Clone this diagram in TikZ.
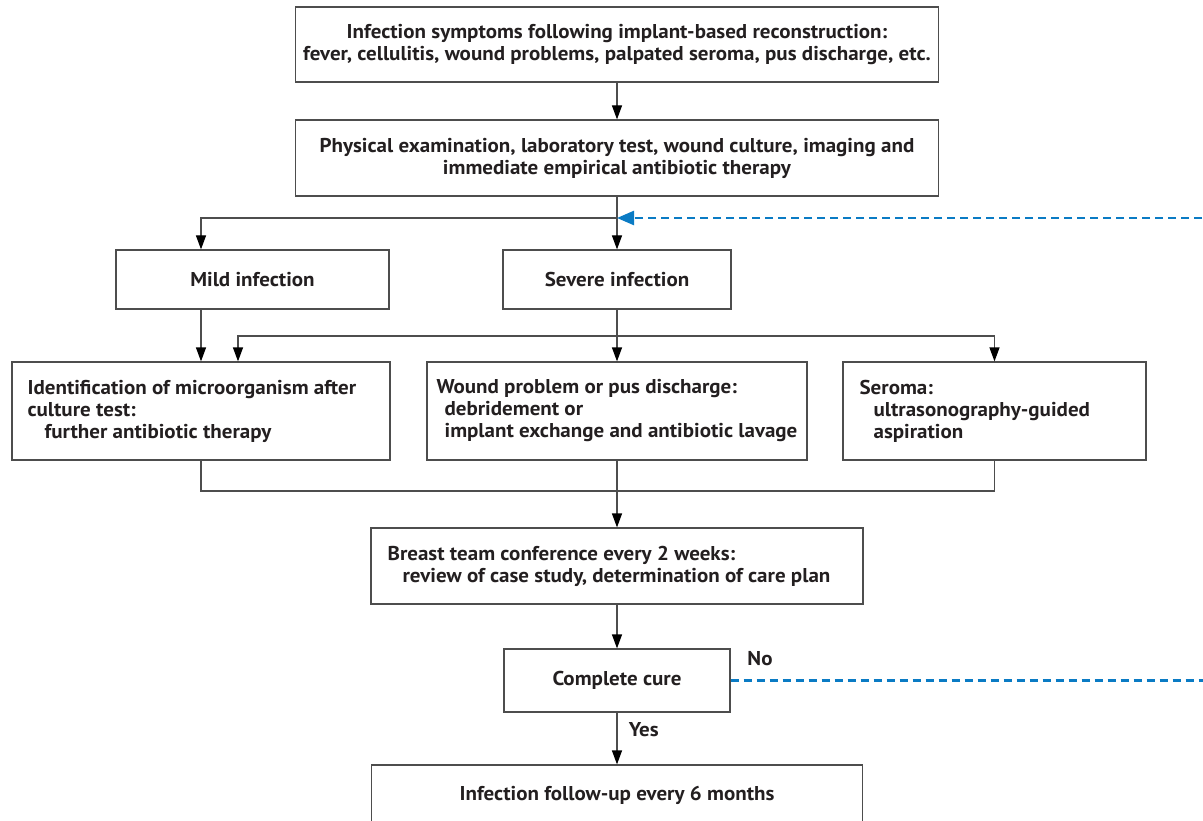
\documentclass[tikz,border=0pt]{standalone}
\usepackage{fontspec}
\setmainfont{PT Sans}[FakeStretch=1.05]
\usetikzlibrary{arrows.meta,calc}
\definecolor{txt}{HTML}{231F20}
\definecolor{lnc}{HTML}{4D4D4D}
\definecolor{blu}{HTML}{0A7BC4}
\begin{document}
\begin{tikzpicture}[x=1pt,y=-1pt,
  every node/.style={font=\fontsize{20}{22}\selectfont\bfseries, text=txt},
  box/.style={draw=lnc, line width=1.2pt, inner sep=0pt, align=center},
  tbox/.style={anchor=west, align=left, inner sep=0pt},
  conn/.style={draw=lnc, line width=1.2pt},
  arr/.style={conn, -{Triangle[length=14pt,width=10pt,color=black]}},
  bluedash/.style={draw=blu, line width=2.5pt, dash pattern=on 8pt off 5pt}]
\useasboundingbox (0,0) rectangle (1203,821);

% boxes
\node[box, minimum width=643pt, minimum height=75pt] (b1) at (617,44.5)
  {Infection symptoms following implant-based reconstruction:\\fever, cellulitis, wound problems, palpated seroma, pus discharge, etc.};
\node[box, minimum width=643pt, minimum height=76pt] (b2) at (617,158)
  {Physical examination, laboratory test, wound culture, imaging and\\immediate empirical antibiotic therapy};
\node[box, minimum width=273pt, minimum height=59pt] (mild) at (252.5,279.5) {Mild infection};
\node[box, minimum width=228pt, minimum height=59pt] (severe) at (617,279.5) {Severe infection};
\node[box, minimum width=378pt, minimum height=98pt] (c1) at (201,411) {};
\node[box, minimum width=380pt, minimum height=98pt] (c2) at (617,411) {};
\node[box, minimum width=303pt, minimum height=98pt] (c3) at (994.5,411) {};
\node[box, minimum width=492pt, minimum height=76pt] (conf) at (617,566) {};
\node[box, minimum width=226pt, minimum height=63pt] (cure) at (617,680.5) {Complete cure};
\node[box, minimum width=491pt, minimum height=60pt] (follow) at (617,795) {Infection follow-up every 6 months};

% left-aligned texts
\node[tbox] (c1t) at ($(c1.west)+(16,0)$)
  {Identification of microorganism after\\culture test:\\\hspace*{17pt}further antibiotic therapy};
\node[tbox] (c2t) at ($(c2.west)+(10,0)$)
  {Wound problem or pus discharge:\\\hspace*{8pt}debridement or\\\hspace*{8pt}implant exchange and antibiotic lavage};
\node[tbox] (c3t) at ($(c3.west)+(17,0)$)
  {Seroma:\\\hspace*{14pt}ultrasonography-guided\\\hspace*{14pt}aspiration};
\node[tbox] (conft) at ($(conf.west)+(17,0)$)
  {Breast team conference every 2 weeks:\\\hspace*{15pt}review of case study, determination of care plan};

% junctions
\coordinate (j1) at (617,218);
\coordinate (jm) at (201,218);
\coordinate (j2) at (617,336);
\coordinate (jl) at (238,336);
\coordinate (k1) at (201,491);
\coordinate (k2) at (617,491);
\coordinate (k3) at (994.5,491);
\coordinate (e1) at (1215,680.5);
\coordinate (e2) at (1215,218);

% connectors
\draw[arr] (b1.south) -- (b2.north);
\draw[conn] (b2.south) -- (j1);
\draw[arr] (j1) -- (severe.north);
\draw[arr] (j1) -- (jm) -- (jm |- mild.north);
\draw[arr] (c1.north |- mild.south) -- (c1.north);
\draw[conn] (severe.south) -- (j2);
\draw[arr] (j2) -- (c2.north);
\draw[arr] (j2) -| (c3.north);
\draw[arr] (j2) -- (jl) -- (jl |- c1.north);
\draw[conn] (c1.south) -- (k1) -- (k3) -- (c3.south);
\draw[conn] (c2.south) -- (k2);
\draw[arr] (k2) -- (conf.north);
\draw[arr] (conf.south) -- (cure.north);
\draw[arr] (cure.south) -- node[pos=0.33, right=8pt] (yes) {Yes} (follow.north);
\draw[bluedash] (cure.east) -- (e1);
\node (no) at (760,659) {No};
\draw[bluedash, -{Triangle[length=17pt,width=14pt]}] (e2) -- (j1);
\end{tikzpicture}
\end{document}
